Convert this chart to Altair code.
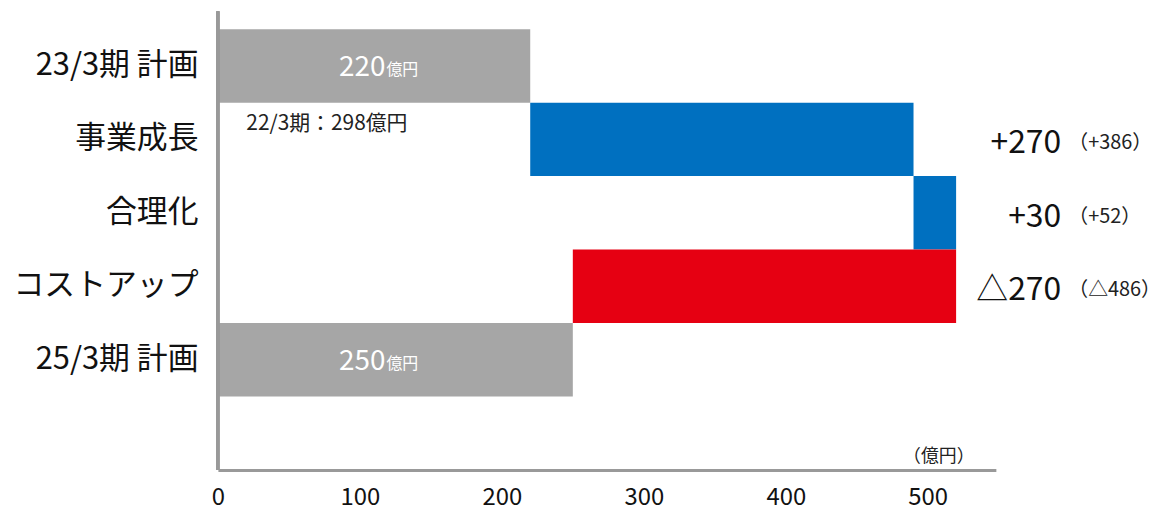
import altair as alt
import pandas as pd

# ---- data ----
categories = ["23/3期 計画", "事業成長", "合理化", "コストアップ", "25/3期 計画"]
kinds = ["total", "up", "up", "down", "total"]
deltas = [220, 270, 30, -270, 250]
total_labels = ["220", "", "", "", "250"]
delta_labels = ["", "+270", "+30", "△270", ""]
vs_prev_labels = ["", "（+386）", "（+52）", "（△486）", ""]
unit_small = "億円"
note_text = "22/3期：298億円"
axis_unit = "（億円）"
x_ticks = [0, 100, 200, 300, 400, 500]
blank = " "

FONT = "Noto Sans CJK JP"

# ---- build waterfall table ----
rows = []
running = 0
for cat, kind, d, tl, dl, pl in zip(categories, kinds, deltas, total_labels,
                                    delta_labels, vs_prev_labels):
    if kind == "total":
        start, end = 0, d
        running = d
    else:
        start, end = running, running + d
        running = end
    rows.append(dict(cat=cat, kind=kind, start=start, end=end,
                     total_label=tl, delta_label=dl, prev_label=pl))
df = pd.DataFrame(rows)

ydomain = categories + [blank]
yscale = alt.Scale(domain=ydomain, range=[20, 463], paddingInner=0, paddingOuter=0)
xscale = alt.Scale(domain=[0, 548], nice=False, zero=True)

Y = alt.Y("cat:N", scale=yscale, sort=None,
          axis=alt.Axis(title=None, domain=False, ticks=False, grid=False,
                        labelFontSize=31, labelPadding=20, labelColor="#111111",
                        labelFont=FONT, labelFontWeight=400, labelLimit=300))

base = alt.Chart(df)

bars = base.mark_bar(size=73.83, stroke=None).encode(
    x=alt.X("start:Q", scale=xscale,
            axis=alt.Axis(values=x_ticks, title=None, grid=False, ticks=False,
                          domainColor="#999999", domainWidth=3,
                          labelFontSize=24, labelPadding=16, labelColor="#111111",
                          labelFont=FONT, labelFlush=False)),
    x2="end:Q",
    y=Y,
    color=alt.Color("kind:N", legend=None,
                    scale=alt.Scale(domain=["total", "up", "down"],
                                    range=["#A6A6A6", "#0070C0", "#E60012"])),
)

tot = df[df["total_label"] != ""]
tot_num = alt.Chart(tot).mark_text(align="right", baseline="alphabetic", dy=10,
                                   fontSize=28, color="white", font=FONT).encode(
    x=alt.datum(118), y=alt.Y("cat:N", scale=yscale, sort=None),
    text="total_label:N")
tot_unit = alt.Chart(tot).mark_text(align="left", baseline="alphabetic", dy=9, dx=1,
                                    fontSize=16, color="white", font=FONT).encode(
    x=alt.datum(118), y=alt.Y("cat:N", scale=yscale, sort=None),
    text=alt.value(unit_small))

dl = df[df["delta_label"] != ""]
delta_txt = alt.Chart(dl).mark_text(align="right", baseline="middle", dy=4,
                                    fontSize=32, color="#111111", font=FONT).encode(
    x=alt.datum(594), y=alt.Y("cat:N", scale=yscale, sort=None),
    text="delta_label:N")
prev_txt = alt.Chart(dl).mark_text(align="left", baseline="middle", dy=4,
                                   fontSize=20, color="#222222", font=FONT).encode(
    x=alt.datum(599), y=alt.Y("cat:N", scale=yscale, sort=None),
    text="prev_label:N")

note = alt.Chart(pd.DataFrame({"cat": [categories[1]], "t": [note_text]})).mark_text(
    align="left", baseline="middle", dy=-15, fontSize=21, color="#222222", font=FONT
).encode(x=alt.datum(20), y=alt.Y("cat:N", scale=yscale, sort=None), text="t:N")

unit = alt.Chart(pd.DataFrame({"cat": [blank], "t": [axis_unit]})).mark_text(
    align="right", baseline="middle", dy=24, fontSize=18, color="#222222", font=FONT
).encode(x=alt.datum(533), y=alt.Y("cat:N", scale=yscale, sort=None), text="t:N")

yline = alt.Chart(df).mark_rule(color="#999999", strokeWidth=3).encode(
    x=alt.value(0), y=alt.value(2), y2=alt.value(463))

chart = alt.layer(bars, yline, tot_num, tot_unit, delta_txt, prev_txt, note, unit).properties(
    width=782, height=463,
    background="white",
    autosize=alt.AutoSizeParams(type="none"),
    padding={"left": 211, "top": 0, "right": 166, "bottom": 42},
).configure_view(strokeWidth=0, stroke=None)

chart.save("out.html", embed_options={"renderer": "svg", "actions": False})
